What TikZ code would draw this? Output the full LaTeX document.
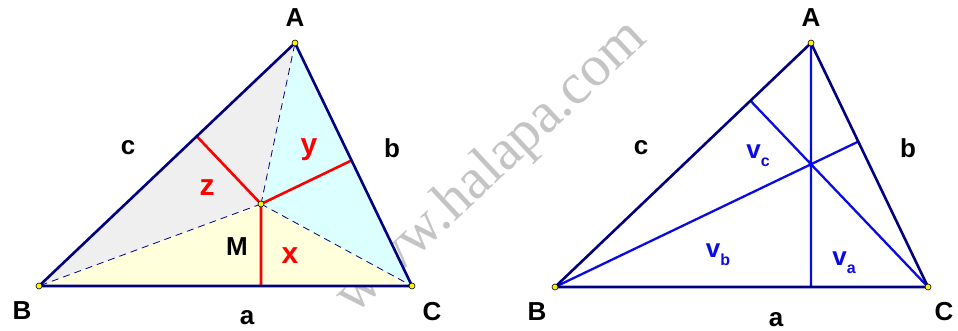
\documentclass[tikz,border=0pt]{standalone}
\usepackage{fontspec}
\setmainfont{Liberation Sans}
\newfontfamily\markfont{Liberation Serif}
\usetikzlibrary{calc}
\definecolor{navy}{HTML}{000080}
\definecolor{altblue}{HTML}{0A0AE6}
\definecolor{paleyellow}{HTML}{FFFFDC}
\definecolor{palecyan}{HTML}{DCFFFF}
\definecolor{palegray}{HTML}{EFEFEF}
\definecolor{markgray}{HTML}{C4C4C4}
\newcommand{\vsub}[1]{v\raisebox{-0.3em}{\fontsize{16}{16}\selectfont #1}}
\tikzset{
  side/.style={draw=navy,line width=2.6pt,line join=round},
  dist/.style={draw=red,line width=2.6pt},
  alt/.style={draw=altblue,line width=2.3pt},
  aux/.style={draw=navy,line width=0.8pt,dash pattern=on 7pt off 5pt},
  vdot/.style={circle,fill=yellow,draw=black,line width=0.6pt,inner sep=0pt,minimum size=6pt},
  lbl/.style={inner sep=0pt,font=\fontsize{26}{26}\selectfont\bfseries},
  dlbl/.style={lbl,font=\fontsize{30}{30}\selectfont\bfseries,text=red},
  vlbl/.style={lbl,text=altblue},
  wm/.style={inner sep=0pt,text=markgray,font=\fontsize{58}{58}\selectfont\markfont},
}
\begin{document}
\begin{tikzpicture}[x=1pt,y=-1pt]
\useasboundingbox (0,0) rectangle (958,331);
% watermark
\node[wm,rotate=43] (mark) at (492,168) {www.halapa.com};
% left triangle: distances from M
\coordinate (A) at (295,43);
\coordinate (B) at (39,286);
\coordinate (C) at (412,286);
\coordinate (M) at (261,204);
\coordinate (Fa) at ($(B)!(M)!(C)$);
\coordinate (Fb) at ($(C)!(M)!(A)$);
\coordinate (Fc) at ($(A)!(M)!(B)$);
\fill[paleyellow] (M)--(B)--(C)--cycle;
\fill[palecyan] (M)--(C)--(A)--cycle;
\fill[palegray] (M)--(A)--(B)--cycle;
\draw[aux] (M)--(A) (M)--(B) (M)--(C);
\draw[dist] (M)--(Fa) (M)--(Fb) (M)--(Fc);
\draw[side] (A)--(B)--(C)--cycle;
\foreach \p in {A,B,C,M} \node[vdot] at (\p) {};
\node[lbl] (lA) at (295,18) {A};
\node[lbl] (lB) at (22,311) {B};
\node[lbl] (lC) at (432,312) {C};
\node[lbl] (la) at (247,318) {a};
\node[lbl] (lb) at (392,148) {b};
\node[lbl] (lc) at (128,148) {c};
\node[lbl] (lM) at (237,247) {M};
\node[dlbl] (lx) at (290,256) {x};
\node[dlbl] (ly) at (309,150) {y};
\node[dlbl] (lz) at (207,188) {z};
% right triangle: altitudes
\coordinate (A2) at (811,43);
\coordinate (B2) at (555,287);
\coordinate (C2) at (928,287);
\coordinate (Ha) at ($(B2)!(A2)!(C2)$);
\coordinate (Hb) at ($(C2)!(B2)!(A2)$);
\coordinate (Hc) at ($(A2)!(C2)!(B2)$);
\draw[alt] (A2)--(Ha) (B2)--(Hb) (C2)--(Hc);
\draw[side] (A2)--(B2)--(C2)--cycle;
\foreach \p in {A2,B2,C2} \node[vdot] at (\p) {};
\node[lbl] (rA) at (811,18) {A};
\node[lbl] (rB) at (537,312) {B};
\node[lbl] (rC) at (944,312) {C};
\node[lbl] (ra) at (776,320) {a};
\node[lbl] (rb) at (908,148) {b};
\node[lbl] (rc) at (641,148) {c};
\node[vlbl] (va) at (844,263) {\vsub{a}};
\node[vlbl] (vb) at (718,255) {\vsub{b}};
\node[vlbl] (vc) at (758,156) {\vsub{c}};
\end{tikzpicture}
\end{document}
